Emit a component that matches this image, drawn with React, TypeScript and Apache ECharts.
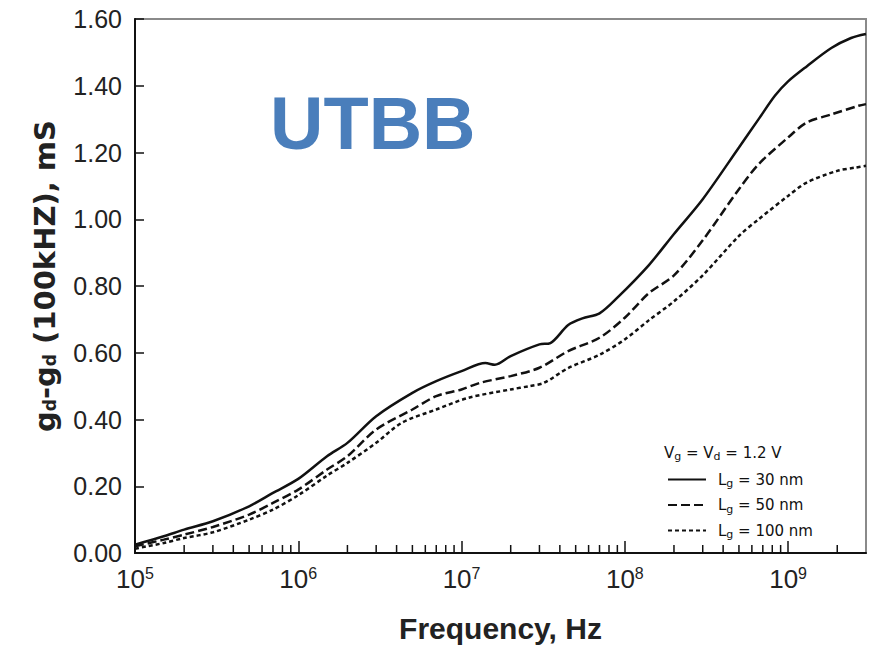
import React, { useEffect, useRef } from "react";
import * as echarts from "echarts";

// Lg = 30 nm (solid)
const freq30 = [1e5, 1.5e5, 2e5, 3e5, 5e5, 7e5, 1e6, 1.5e6, 2e6, 3e6, 5e6, 7e6, 1e7, 1.4e7, 1.6e7, 2e7, 3e7, 3.5e7, 4.5e7, 5.5e7, 7e7, 9e7, 1.4e8, 2e8, 3e8, 5e8, 6.6e8, 8.3e8, 1e9, 1.3e9, 1.84e9, 2.43e9, 3e9];
const val30 = [0.025, 0.05, 0.07, 0.095, 0.14, 0.18, 0.222, 0.29, 0.33, 0.41, 0.48, 0.515, 0.545, 0.569, 0.564, 0.59, 0.625, 0.629, 0.683, 0.703, 0.718, 0.765, 0.862, 0.956, 1.06, 1.215, 1.3, 1.37, 1.413, 1.458, 1.513, 1.543, 1.555];

// Lg = 50 nm (dashed)
const freq50 = [1e5, 1.5e5, 2e5, 3e5, 5e5, 7e5, 1e6, 1.5e6, 2e6, 3e6, 5e6, 7e6, 1e7, 1.3e7, 2e7, 3e7, 4.5e7, 7e7, 1e8, 1.4e8, 2e8, 3e8, 5e8, 6.6e8, 1e9, 1.3e9, 1.84e9, 2.7e9, 3e9];
const val50 = [0.02, 0.04, 0.055, 0.078, 0.115, 0.15, 0.19, 0.25, 0.29, 0.37, 0.43, 0.47, 0.49, 0.51, 0.53, 0.555, 0.605, 0.645, 0.705, 0.778, 0.832, 0.937, 1.09, 1.165, 1.245, 1.29, 1.314, 1.34, 1.345];

// Lg = 100 nm (dotted)
const freq100 = [1e5, 1.5e5, 2e5, 3e5, 5e5, 7e5, 1e6, 1.5e6, 2e6, 3e6, 4.3e6, 7e6, 1.1e7, 2e7, 2.6e7, 3.2e7, 4.5e7, 7e7, 1e8, 1.4e8, 2e8, 3e8, 5e8, 6.6e8, 1e9, 1.3e9, 2e9, 2.6e9, 3e9];
const val100 = [0.013, 0.03, 0.045, 0.062, 0.1, 0.13, 0.173, 0.232, 0.27, 0.33, 0.39, 0.43, 0.465, 0.49, 0.5, 0.51, 0.554, 0.594, 0.64, 0.697, 0.754, 0.832, 0.95, 1.0, 1.07, 1.11, 1.145, 1.155, 1.16];

const seriesNames = ["Lg = 30 nm", "Lg = 50 nm", "Lg = 100 nm"];
const legendValues = ["30 nm", "50 nm", "100 nm"];
const minorTicks = [
  2e5, 3e5, 4e5, 5e5, 6e5, 7e5, 8e5, 9e5,
  2e6, 3e6, 4e6, 5e6, 6e6, 7e6, 8e6, 9e6,
  2e7, 3e7, 4e7, 5e7, 6e7, 7e7, 8e7, 9e7,
  2e8, 3e8, 4e8, 5e8, 6e8, 7e8, 8e8, 9e8,
  2e9,
];

const pairs = (xs: number[], ys: number[]) => xs.map((x, i) => [x, ys[i]]);

export default function App() {
  const ref = useRef<HTMLDivElement>(null);
  useEffect(() => {
    if (!ref.current) return;
    const chart = echarts.init(ref.current, null, { renderer: "svg" });
    const font = "Liberation Sans, Arial, sans-serif";
    const lfont = "DejaVu Sans";
    const lineBase = { color: "#111", width: 2.5 };
    chart.setOption({
      animation: false,
      backgroundColor: "#fff",
      grid: {
        left: 135, right: 6, top: 19, bottom: 92,
        show: true, borderColor: "#8a8a8a", borderWidth: 2, backgroundColor: "transparent",
      },
      xAxis: {
        type: "log",
        logBase: 10,
        min: 1e5,
        max: 3e9,
        name: "Frequency, Hz",
        nameLocation: "middle",
        nameGap: 60,
        nameTextStyle: { fontFamily: font, fontWeight: "bold", fontSize: 30, color: "#222" },
        axisLine: { show: true, lineStyle: { color: "#111", width: 2 } },
        axisTick: { show: true, inside: true, length: 12, lineStyle: { color: "#111", width: 1.5 } },
        splitLine: { show: false },
        axisLabel: {
          margin: 12,
          showMaxLabel: false,
          formatter: (v: number) => {
            const l = Math.log10(v);
            const e = Math.round(l);
            if (Math.abs(l - e) > 1e-6) return "";
            return `{b|10}{e|${e}}`;
          },
          rich: {
            b: { fontFamily: font, fontSize: 26, color: "#222" },
            e: { fontFamily: font, fontSize: 16, color: "#222", verticalAlign: "bottom", padding: [0, 0, 12, 0] },
          },
        },
      },
      yAxis: {
        type: "value",
        min: 0,
        max: 1.6,
        interval: 0.2,
        axisLine: { show: true, lineStyle: { color: "#111", width: 2 } },
        axisTick: { show: true, inside: true, length: 9, lineStyle: { color: "#111", width: 1.5 } },
        splitLine: { show: false },
        axisLabel: {
          margin: 13,
          fontFamily: font,
          fontSize: 25,
          color: "#222",
          formatter: (v: number) => v.toFixed(2),
        },
      },
      legend: {
        orient: "vertical",
        left: 662,
        top: 467,
        itemWidth: 38,
        itemHeight: 14,
        itemGap: 8.5,
        data: seriesNames,
        itemStyle: { opacity: 0 },
        formatter: (name: string) => {
          const i = seriesNames.indexOf(name);
          return `{a|L}{s|g}{a| = ${legendValues[i]}}`;
        },
        textStyle: {
          padding: [0, 0, 0, 7],
          rich: {
            a: { fontFamily: lfont, fontSize: 15, color: "#111" },
            s: { fontFamily: lfont, fontSize: 11, color: "#111", verticalAlign: "top", padding: [8, 0, 0, 0] },
          },
        },
      },
      graphic: [
        {
          type: "text",
          left: 270,
          top: 86,
          style: {
            text: "UTBB",
            fontFamily: font,
            fontWeight: "bold",
            fontSize: 74,
            fill: "#4a7ebb",
          },
        },
        {
          type: "text",
          x: 45,
          y: 276,
          rotation: Math.PI / 2,
          style: {
            text: "{m|g}{s|d}{m|-g}{s|d}{m| (100kHZ), mS}",
            align: "center",
            verticalAlign: "middle",
            rich: {
              m: { fontFamily: lfont, fontWeight: "bold", fontSize: 29, fill: "#222" },
              s: { fontFamily: lfont, fontWeight: "bold", fontSize: 17, fill: "#222", verticalAlign: "top", padding: [11, 0, 0, 0] },
            },
          },
        },
        {
          type: "text",
          left: 664,
          top: 445,
          style: {
            text: "{a|V}{s|g}{a| = V}{s|d}{a| = 1.2 V}",
            rich: {
              a: { fontFamily: lfont, fontSize: 15, fill: "#111" },
              s: { fontFamily: lfont, fontSize: 11, fill: "#111", verticalAlign: "top", padding: [8, 0, 0, 0] },
            },
          },
        },
      ],
      series: [
        {
          name: seriesNames[0], type: "line", showSymbol: false, symbol: "none", smooth: 0.3,
          lineStyle: { ...lineBase, type: "solid" }, itemStyle: { color: "#111" },
          data: pairs(freq30, val30),
        },
        {
          name: seriesNames[1], type: "line", showSymbol: false, symbol: "none", smooth: 0.3,
          lineStyle: { ...lineBase, type: [9, 4] }, itemStyle: { color: "#111" },
          data: pairs(freq50, val50),
        },
        {
          name: seriesNames[2], type: "line", showSymbol: false, symbol: "none", smooth: 0.3,
          lineStyle: { ...lineBase, type: [4, 3] }, itemStyle: { color: "#111" },
          data: pairs(freq100, val100),
        },
        {
          type: "custom",
          silent: true,
          clip: false,
          z: 5,
          data: minorTicks.map((f) => [f, 0]),
          renderItem: (_p: any, api: any) => {
            const pt = api.coord([api.value(0), 0]);
            return {
              type: "line",
              shape: { x1: pt[0], y1: pt[1], x2: pt[0], y2: pt[1] - 8 },
              style: { stroke: "#111", lineWidth: 1.5 },
            };
          },
        },
      ],
    });
    return () => chart.dispose();
  }, []);
  return (
    <div
      ref={ref}
      style={{ position: "fixed", left: 0, top: 0, width: 872, height: 648, background: "#fff" }}
    />
  );
}
